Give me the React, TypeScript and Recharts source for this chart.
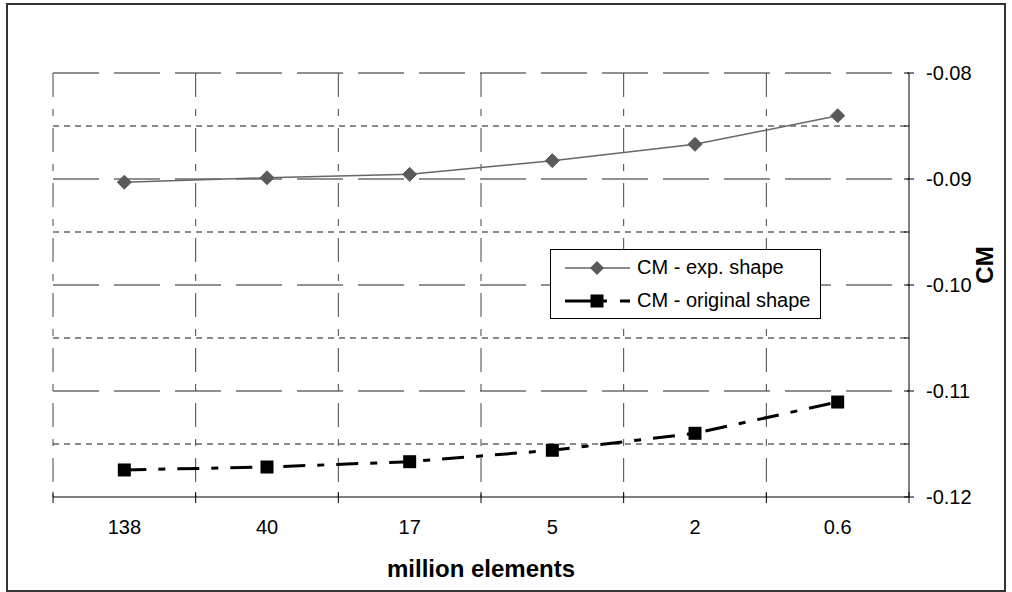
import React from 'react';
import { LineChart, Line, XAxis, YAxis, CartesianGrid, Legend } from 'recharts';

const categories = ['138', '40', '17', '5', '2', '0.6'];
const expShape = [-0.0903, -0.08988, -0.08956, -0.08827, -0.08673, -0.08403];
const originalShape = [-0.11745, -0.11717, -0.11667, -0.11559, -0.11399, -0.11104];
const yMajorTicks = [-0.12, -0.11, -0.1, -0.09, -0.08];
const yMinorTicks = [-0.115, -0.105, -0.095, -0.085];
const categoryBoundaries = [-0.5, 0.5, 1.5, 2.5, 3.5, 4.5, 5.5];
const seriesNames = ['CM - exp. shape', 'CM - original shape'];

const FONT = '"Liberation Sans", Arial, Helvetica, sans-serif';

const data = categories.map((c, i) => ({ idx: i, label: c, exp: expShape[i], orig: originalShape[i] }));
const xTicks = [...categoryBoundaries, ...categories.map((_, i) => i)].sort((a, b) => a - b);
const yTicks = [...yMajorTicks, ...yMinorTicks].sort((a, b) => a - b);

const XTick = (props: any) => {
  const { x, y, payload } = props;
  const v = payload.value as number;
  if (Number.isInteger(v)) {
    return (
      <text x={x} y={y + 37} textAnchor="middle" fontSize={20} fill="#000" fontFamily={FONT}>
        {categories[v]}
      </text>
    );
  }
  return <line x1={x} x2={x} y1={y - 5} y2={y + 6} stroke="#000" strokeWidth={1} />;
};

const YTick = (props: any) => {
  const { x, y, payload } = props;
  const v = payload.value as number;
  const major = yMajorTicks.some((t) => Math.abs(t - v) < 1e-9);
  if (major) {
    return (
      <g>
        <line x1={x - 5} x2={x + 5} y1={y} y2={y} stroke="#000" strokeWidth={1} />
        <text x={x + 17} y={y + 7} textAnchor="start" fontSize={20} fill="#000" fontFamily={FONT}>
          {v.toFixed(2)}
        </text>
      </g>
    );
  }
  return <line x1={x - 5} x2={x} y1={y} y2={y} stroke="#000" strokeWidth={1} />;
};

const XTitle = (props: any) => {
  const vb = props.viewBox || { x: 53, y: 497, width: 856, height: 90 };
  return (
    <text x={vb.x + vb.width / 2} y={vb.y + 80} textAnchor="middle" fontSize={24} fontWeight="bold" fill="#000" fontFamily={FONT}>
      million elements
    </text>
  );
};

const YTitle = (props: any) => {
  const vb = props.viewBox || { x: 909, y: 73, width: 80, height: 424 };
  const cx = vb.x + 75;
  const cy = vb.y + vb.height / 2 - 20;
  return (
    <text
      x={cx}
      y={cy}
      transform={`rotate(-90, ${cx}, ${cy})`}
      textAnchor="middle"
      dominantBaseline="central"
      fontSize={24}
      fontWeight="bold"
      fill="#000"
      fontFamily={FONT}
    >
      CM
    </text>
  );
};

const Diamond = (props: any) => {
  const { cx, cy, index } = props;
  if (cx == null || cy == null) return <g key={`d-${index}`} />;
  return (
    <polygon
      key={`d-${index}`}
      points={`${cx},${cy - 7} ${cx + 7},${cy} ${cx},${cy + 7} ${cx - 7},${cy}`}
      fill="#5a5a5a"
      stroke="#5a5a5a"
    />
  );
};

const Square = (props: any) => {
  const { cx, cy, index } = props;
  if (cx == null || cy == null) return <g key={`s-${index}`} />;
  return <rect key={`s-${index}`} x={cx - 6.5} y={cy - 6.5} width={13} height={13} fill="#000" />;
};

const LegendBox = () => (
  <div
    style={{
      width: 271,
      height: 70,
      boxSizing: 'border-box',
      border: '1px solid #000',
      background: '#fff',
      position: 'relative',
    }}
  >
    <svg width={269} height={68} style={{ position: 'absolute', left: 0, top: 0 }}>
      <line x1={14} x2={79} y1={18} y2={18} stroke="#666" strokeWidth={1.5} />
      <polygon points="46,11 53,18 46,25 39,18" fill="#5a5a5a" />
      <text x={86} y={24} fontSize={20} fill="#000" fontFamily={FONT}>
        {seriesNames[0]}
      </text>
      <line x1={14} x2={79} y1={51} y2={51} stroke="#000" strokeWidth={3} strokeDasharray="42 13 10" />
      <rect x={39.5} y={44.5} width={13} height={13} fill="#000" />
      <text x={86} y={57} fontSize={20} fill="#000" fontFamily={FONT}>
        {seriesNames[1]}
      </text>
    </svg>
  </div>
);

export default function App() {
  return (
    <div style={{ position: 'absolute', left: 0, top: 0, width: 1012, height: 592, background: '#fff' }}>
      <div
        style={{
          position: 'absolute',
          left: 6,
          top: 3,
          width: 1000,
          height: 589,
          boxSizing: 'border-box',
          border: '2px solid #333',
        }}
      />
      <div style={{ position: 'absolute', left: 0, top: 0 }}>
        <LineChart width={1012} height={592} data={data} margin={{ top: 73, left: 53, right: 23, bottom: 5 }}>
          <CartesianGrid
            vertical={false}
            horizontalValues={[-0.11, -0.1, -0.09, -0.08]}
            stroke="#222"
            strokeWidth={1}
            strokeDasharray="46 15"
          />
          <CartesianGrid
            vertical={false}
            horizontalValues={yMinorTicks}
            stroke="#666"
            strokeWidth={1.5}
            strokeDasharray="6 5"
          />
          <CartesianGrid
            horizontal={false}
            verticalValues={categoryBoundaries.slice(0, 6)}
            stroke="#444"
            strokeWidth={1}
            strokeDasharray="24 12 7 12"
          />
          <XAxis
            dataKey="idx"
            type="number"
            domain={[-0.5, 5.5]}
            ticks={xTicks}
            interval={0}
            height={90}
            tickLine={false}
            tickSize={0}
            tickMargin={0}
            tick={<XTick />}
            axisLine={{ stroke: '#000', strokeWidth: 1 }}
            label={<XTitle />}
          />
          <YAxis
            orientation="right"
            type="number"
            domain={[-0.12, -0.08]}
            ticks={yTicks}
            interval={0}
            width={80}
            tickLine={false}
            tickSize={0}
            tickMargin={0}
            tick={<YTick />}
            axisLine={{ stroke: '#000', strokeWidth: 1 }}
            label={<YTitle />}
          />
          <Line
            type="linear"
            dataKey="exp"
            name={seriesNames[0]}
            stroke="#666"
            strokeWidth={1.5}
            dot={(p: any) => <Diamond {...p} key={`d-${p.index}`} />}
            activeDot={false}
            isAnimationActive={false}
          />
          <Line
            type="linear"
            dataKey="orig"
            name={seriesNames[1]}
            stroke="#000"
            strokeWidth={3}
            strokeDasharray="22 12 7 12"
            dot={(p: any) => <Square {...p} key={`s-${p.index}`} />}
            activeDot={false}
            isAnimationActive={false}
          />
          <Legend
            layout="vertical"
            align="center"
            verticalAlign="middle"
            wrapperStyle={{ position: 'absolute', left: 550, top: 249, width: 271, height: 70 }}
            content={() => <LegendBox />}
          />
        </LineChart>
      </div>
    </div>
  );
}
